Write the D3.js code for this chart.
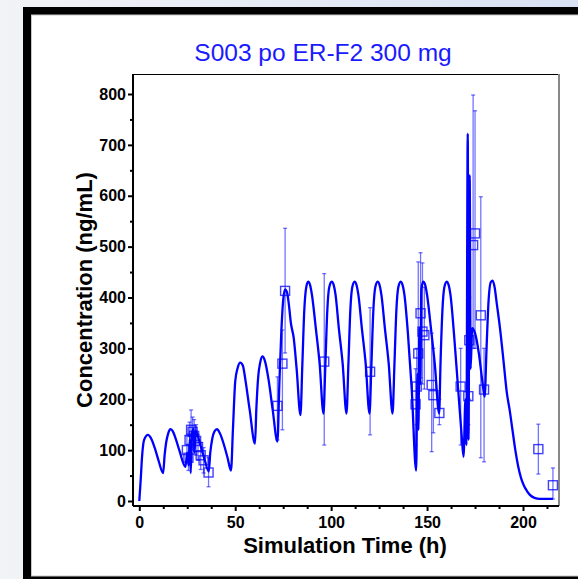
<!DOCTYPE html>
<html>
<head>
<meta charset="utf-8">
<script src="https://cdn.jsdelivr.net/npm/d3@7"></script>
<style>
  html, body { margin: 0; padding: 0; background: #eef1f6; }
  svg { display: block; font-family: "Liberation Sans", Arial, sans-serif; }
</style>
</head>
<body>
<svg id="chart"></svg>
<script>
// simulated profile (h, ng/mL)
const simTime = [0, 0.7, 1.5, 2.5, 4.5, 6, 8, 10, 12.4,
  13.2, 14, 15, 16.3, 17.5, 19, 21, 24,
  25, 25.7, 26.3, 26.8, 27.4, 28.3, 28.8, 29.3, 30.5, 32, 34, 36.2,
  37, 38, 39.2, 40.5, 42, 44, 46, 47.8,
  48.8, 50, 51.3, 52.6, 54, 55.3, 57.5, 60.3,
  61, 62, 63, 64.2, 65.5, 67.4, 69.5, 72,
  73, 74, 75, 76, 77, 78, 79, 80.5, 82, 84,
  85, 86, 87, 88, 89, 90, 92, 94, 96,
  97, 98, 99, 100.3, 101.3, 102.3, 104, 106, 108,
  109, 110, 111, 112.2, 113.2, 114.2, 116, 118, 120,
  121, 122, 123, 124.2, 125.2, 126.2, 128, 130, 132,
  133, 134, 135, 136.2, 137.2, 138.2, 140, 142, 144.3,
  145, 145.5, 146, 146.5, 147, 148, 149, 150, 152, 154, 156.3,
  157, 158, 159, 160.2, 161.2, 162.2, 164, 166, 168, 169,
  170, 170.5, 171.2, 171.6, 172.2, 172.7, 173.5, 175, 177, 179, 180,
  181, 182, 183.2, 184.2, 185.2, 186.3, 188, 189.8, 191.6, 193, 194.5,
  196, 197.5, 199, 200.5, 202, 203.6, 206, 208.8, 215.6];
const simConc = [0, 40, 90, 120, 130, 124, 105, 80, 55,
  90, 115, 132, 141, 137, 122, 98, 67,
  95, 70, 120, 55, 130, 142, 95, 138, 128, 108, 82, 58,
  95, 122, 137, 141, 133, 112, 85, 60,
  140, 235, 262, 272, 266, 238, 180, 113,
  180, 245, 272, 284, 275, 238, 180, 117,
  230, 330, 395, 416, 410, 385, 350, 320, 260, 169,
  270, 375, 420, 431, 425, 405, 340, 270, 172,
  270, 375, 420, 431, 425, 405, 340, 270, 172,
  270, 375, 420, 431, 425, 405, 340, 270, 172,
  270, 375, 420, 431, 425, 405, 340, 270, 172,
  270, 375, 420, 431, 425, 405, 330, 220, 60,
  250, 140, 340, 230, 415, 431, 425, 405, 340, 270, 172,
  270, 375, 420, 431, 425, 405, 330, 230, 130, 87,
  200, 110, 722, 120, 640, 260, 340, 330, 290, 230, 205,
  300, 390, 430, 433, 420, 389, 340, 277, 212, 180, 140,
  100, 68, 45, 30, 20, 12, 6, 4, 4];

// observed means with error bars
const obsTime = [24.8, 25.6, 26.2, 27.0, 27.8, 28.6, 29.6, 30.6, 32.0, 33.5, 36.1,
  72.0, 74.6, 76.0, 96.4, 120.3,
  144.0, 144.6, 145.4, 146.6, 147.6, 148.6, 152.4, 153.3, 156.4,
  167.5, 171.5, 172.0, 174.0, 175.0, 178.0, 179.7, 208.0, 215.6];
const obsConc = [100, 85, 120, 140, 136, 128, 118, 106, 90, 80, 56,
  187, 270, 413, 274, 254,
  190, 225, 290, 369, 333, 326, 228, 208, 173,
  225, 206, 316, 503, 526, 365, 219, 102, 31];
const obsLow = [75, 60, 85, 105, 100, 92, 90, 80, 62, 55, 28,
  120, 140, 291, 110, 130,
  110, 150, 200, 242, 230, 220, 97, 134, 150,
  110, 150, 200, 300, 300, 85, 77, 53, 4];
const obsHigh = [128, 110, 155, 179, 165, 160, 150, 130, 115, 105, 85,
  244, 336, 536, 447, 380,
  260, 300, 470, 488, 468, 420, 330, 300, 200,
  300, 260, 400, 798, 767, 598, 300, 151, 65];

const xTicks = [0, 50, 100, 150, 200];
const xMinor = [12.5, 25, 37.5, 62.5, 75, 87.5, 112.5, 125, 137.5, 162.5, 175, 187.5, 212.5];
const yTicks = [0, 100, 200, 300, 400, 500, 600, 700, 800];
const yMinor = [50, 150, 250, 350, 450, 550, 650, 750];

const width = 578, height = 579;
const box = { left: 133, right: 559, top: 74, bottom: 506 };

const svg = d3.select("#chart").attr("width", width).attr("height", height);

// page background and frame
const defs = svg.append("defs");
const grad = defs.append("linearGradient").attr("id", "bg").attr("x1", 0).attr("x2", 1).attr("y1", 0).attr("y2", 0);
grad.append("stop").attr("offset", "0%").attr("stop-color", "#f2f3f6");
grad.append("stop").attr("offset", "100%").attr("stop-color", "#d8e1f3");
svg.append("rect").attr("width", width).attr("height", height).attr("fill", "url(#bg)");
svg.append("rect").attr("x", 23).attr("y", 7).attr("width", 600).attr("height", 600).attr("fill", "#000");
svg.append("rect").attr("x", 31.5).attr("y", 15).attr("width", 600).attr("height", 561)
  .attr("fill", "#fff").attr("stroke", "#c8c8c8").attr("stroke-width", 1);

const x = d3.scaleLinear().domain([0, 200]).range([139.3, 523]);
const y = d3.scaleLinear().domain([0, 800]).range([501, 94]);

defs.append("clipPath").attr("id", "plotclip").append("rect")
  .attr("x", box.left + 1).attr("y", box.top)
  .attr("width", box.right - box.left - 1).attr("height", box.bottom - box.top - 1);

// title
svg.append("text")
  .attr("x", 323).attr("y", 61)
  .attr("text-anchor", "middle")
  .attr("font-size", 24.5)
  .attr("fill", "#1a1aff")
  .text("S003 po ER-F2 300 mg");

// plot box top / right
svg.append("line").attr("x1", box.left).attr("x2", box.right).attr("y1", box.top + 0.5).attr("y2", box.top + 0.5)
  .attr("stroke", "#000").attr("stroke-width", 1);
svg.append("line").attr("x1", box.right).attr("x2", box.right).attr("y1", box.top).attr("y2", box.bottom)
  .attr("stroke", "#888").attr("stroke-width", 2);

const plot = svg.append("g").attr("clip-path", "url(#plotclip)");

// error bars
const blueT = "rgba(0,0,255,0.55)";
const obs = obsTime.map((t, i) => ({ t, c: obsConc[i], lo: obsLow[i], hi: obsHigh[i] }));

const bars = plot.selectAll(".err").data(obs).enter().append("g").attr("class", "err")
  .attr("stroke", blueT).attr("stroke-width", 1.3).attr("fill", "none");
bars.append("line")
  .attr("x1", d => x(d.t)).attr("x2", d => x(d.t))
  .attr("y1", d => y(d.lo)).attr("y2", d => y(d.hi));
bars.append("line")
  .attr("x1", d => x(d.t) - 2).attr("x2", d => x(d.t) + 2)
  .attr("y1", d => y(d.hi)).attr("y2", d => y(d.hi));
bars.append("line")
  .attr("x1", d => x(d.t) - 2).attr("x2", d => x(d.t) + 2)
  .attr("y1", d => y(d.lo)).attr("y2", d => y(d.lo));

// simulated line
const line = d3.line()
  .x((d, i) => x(simTime[i]))
  .y(d => y(d))
  .curve(d3.curveMonotoneX);

plot.append("path")
  .datum(simConc)
  .attr("d", line)
  .attr("fill", "none")
  .attr("stroke", "#0000ff")
  .attr("stroke-width", 2.3)
  .attr("stroke-linejoin", "round");

// observation squares
const sq = 9;
plot.selectAll(".obs").data(obs).enter().append("rect")
  .attr("class", "obs")
  .attr("x", d => x(d.t) - sq / 2)
  .attr("y", d => y(d.c) - sq / 2)
  .attr("width", sq).attr("height", sq)
  .attr("fill", "none")
  .attr("stroke", "rgba(0,0,255,0.75)")
  .attr("stroke-width", 1.4);

// axes
const xAxis = svg.append("g")
  .attr("transform", `translate(0,${box.bottom})`)
  .call(d3.axisBottom(x).tickValues(xTicks).tickSize(5).tickPadding(6).tickSizeOuter(0));
xAxis.select(".domain").attr("d", `M${box.left},0H${box.right}`).attr("stroke-width", 2);
svg.append("g")
  .attr("transform", `translate(0,${box.bottom})`)
  .call(d3.axisBottom(x).tickValues(xMinor).tickSize(3).tickFormat("").tickSizeOuter(0))
  .call(g => g.select(".domain").remove());

const yAxis = svg.append("g")
  .attr("transform", `translate(${box.left},0)`)
  .call(d3.axisLeft(y).tickValues(yTicks).tickSize(5).tickPadding(2).tickSizeOuter(0));
yAxis.select(".domain").attr("d", `M0,${box.top}V${box.bottom}`).attr("stroke-width", 2);
svg.append("g")
  .attr("transform", `translate(${box.left},0)`)
  .call(d3.axisLeft(y).tickValues(yMinor).tickSize(3).tickFormat("").tickSizeOuter(0))
  .call(g => g.select(".domain").remove());

svg.selectAll(".tick line").attr("stroke-width", 2);
[xAxis, yAxis].forEach(a => a.selectAll("text")
  .attr("font-size", 16).attr("font-weight", "bold").attr("fill", "#000")
  .attr("font-family", "'Liberation Sans', Arial, sans-serif"));

// axis titles
svg.append("text")
  .attr("x", 345).attr("y", 553)
  .attr("text-anchor", "middle")
  .attr("font-size", 22).attr("font-weight", "bold")
  .text("Simulation Time (h)");

svg.append("text")
  .attr("transform", "translate(92,290) rotate(-90)")
  .attr("text-anchor", "middle")
  .attr("font-size", 22).attr("font-weight", "bold")
  .text("Concentration (ng/mL)");
</script>
</body>
</html>
